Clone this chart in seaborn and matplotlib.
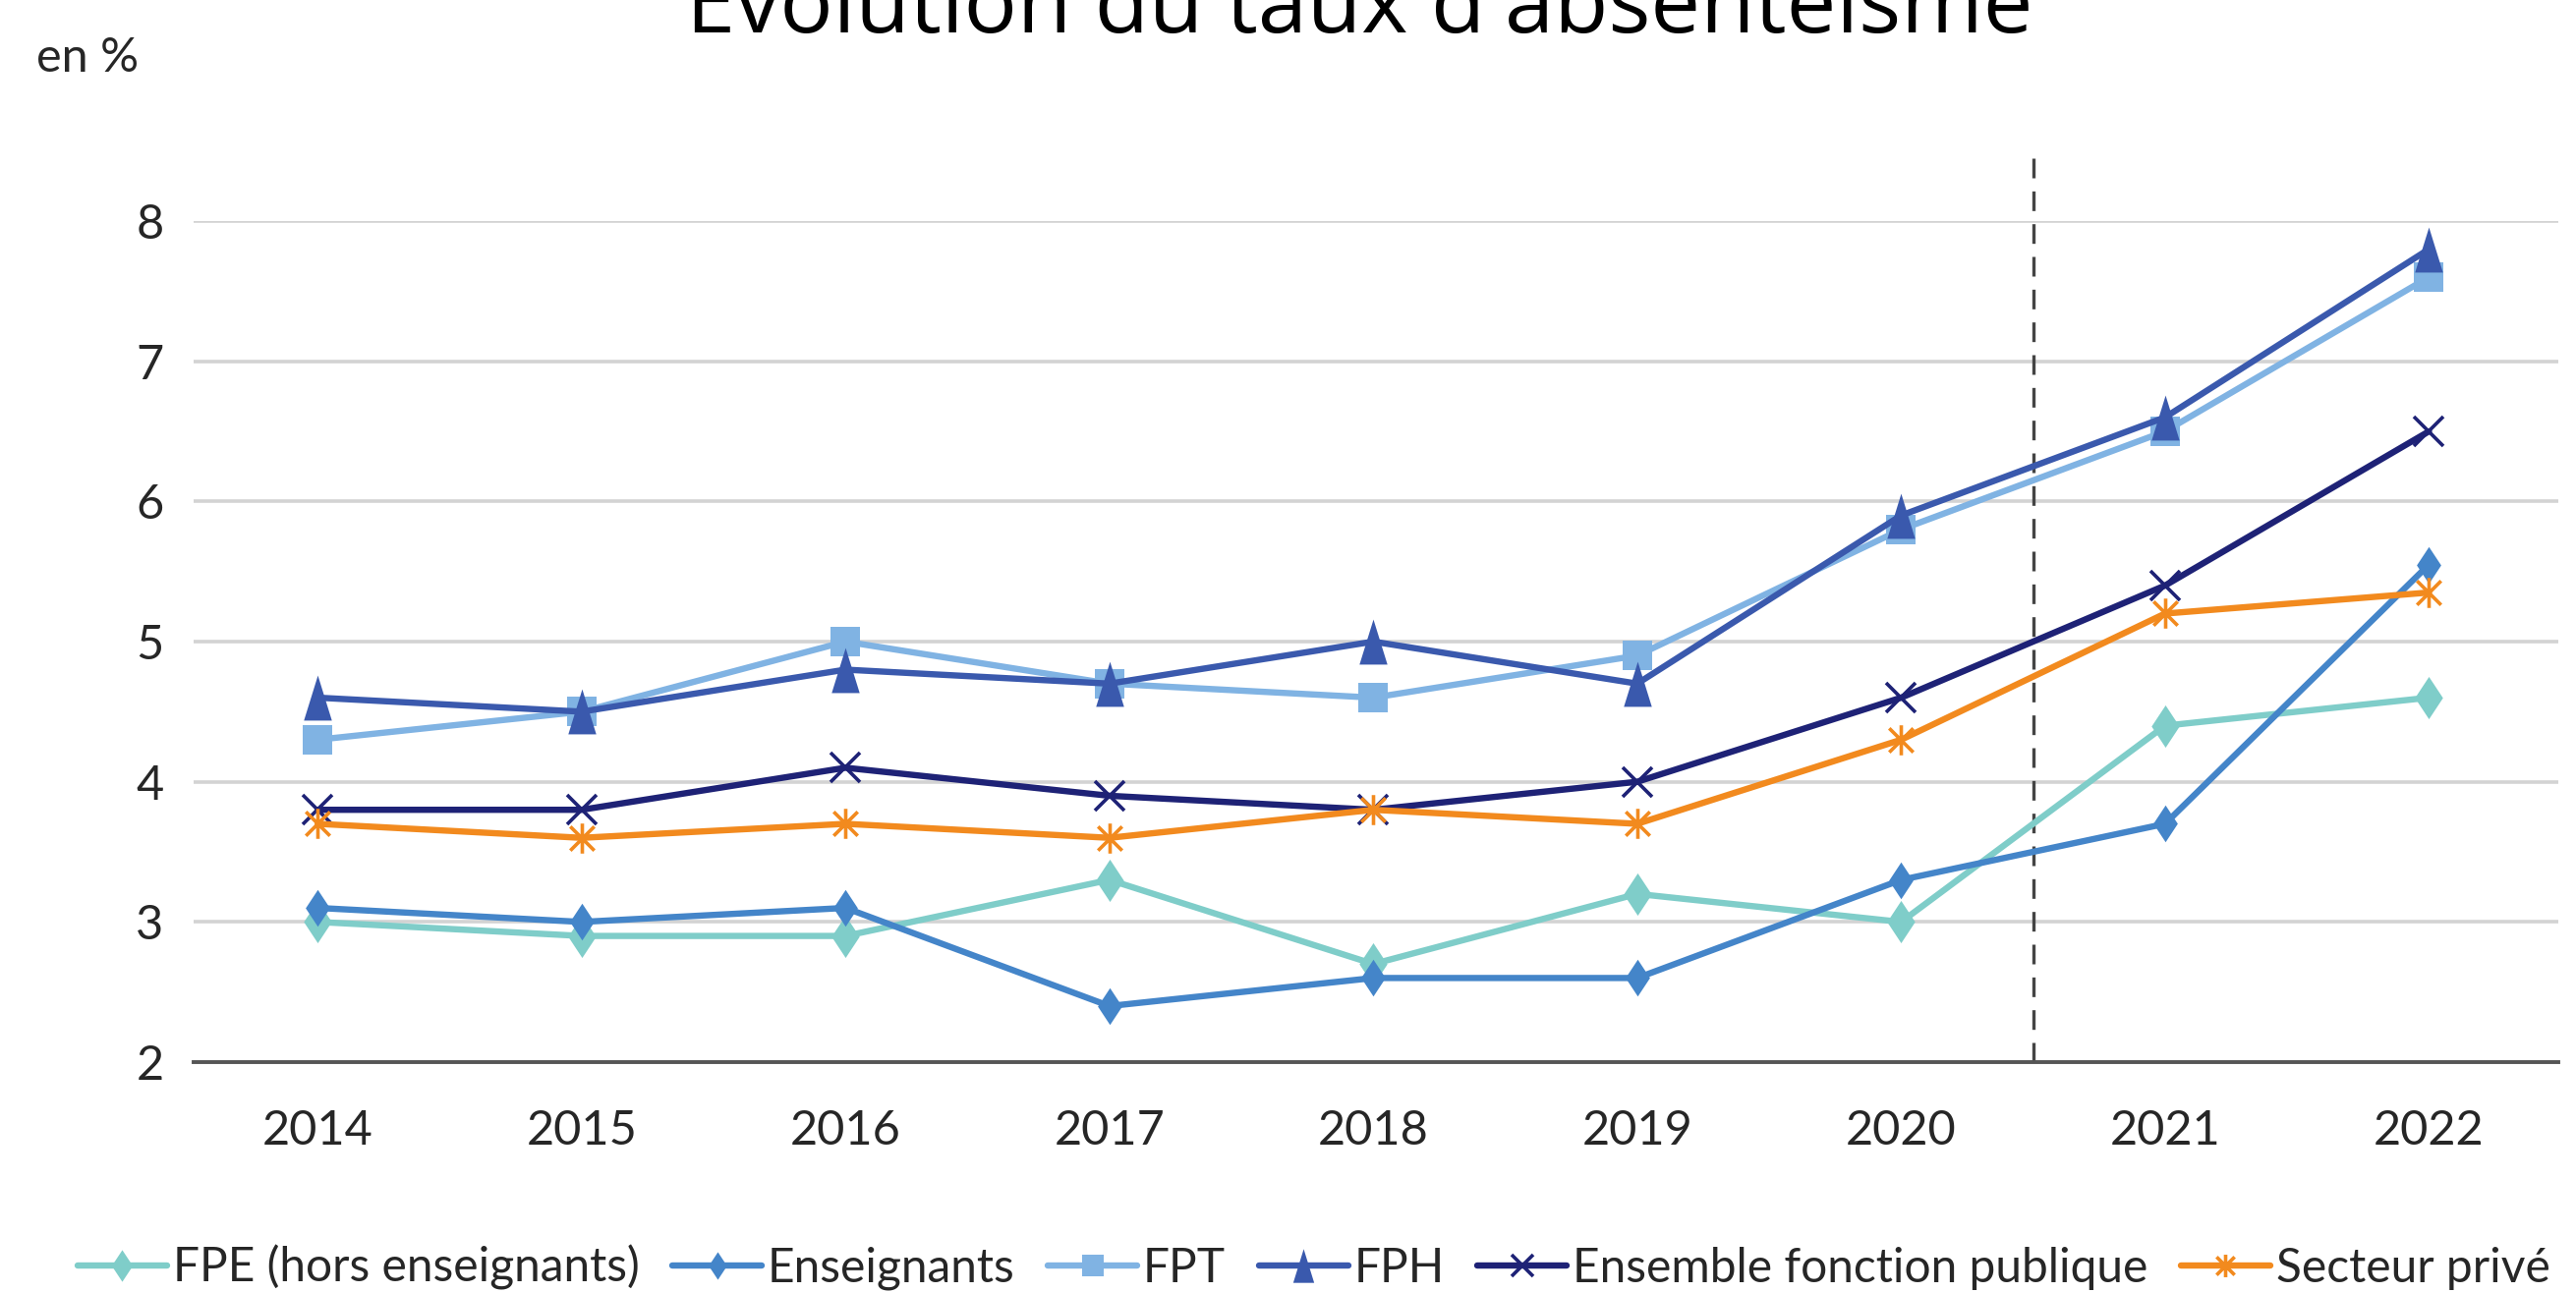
"""Évolution du taux d'absentéisme, 2014-2022."""
import matplotlib
matplotlib.use("Agg")
import matplotlib.pyplot as plt
from matplotlib.path import Path
import seaborn as sns

YEARS = [2014, 2015, 2016, 2017, 2018, 2019, 2020, 2021, 2022]

FPE = [3.0, 2.9, 2.9, 3.3, 2.7, 3.2, 3.0, 4.4, 4.6]
ENSEIGNANTS = [3.1, 3.0, 3.1, 2.4, 2.6, 2.6, 3.3, 3.7, 5.55]
FPT = [4.3, 4.5, 5.0, 4.7, 4.6, 4.9, 5.8, 6.5, 7.6]
FPH = [4.6, 4.5, 4.8, 4.7, 5.0, 4.7, 5.9, 6.6, 7.8]
ENSEMBLE = [3.8, 3.8, 4.1, 3.9, 3.8, 4.0, 4.6, 5.4, 6.5]
PRIVE = [3.7, 3.6, 3.7, 3.6, 3.8, 3.7, 4.3, 5.2, 5.35]

LABELS = ["FPE (hors enseignants)", "Enseignants", "FPT", "FPH",
          "Ensemble fonction publique", "Secteur privé"]
Y_TICKS = [2, 3, 4, 5, 6, 7, 8]

COLORS = ["#7FCDC9", "#4485C9", "#80B3E3", "#3A59AD", "#1E2276", "#F28A1E"]

# tall diamond / triangle like the Excel markers
DIAMOND = [(0, 1), (0.66, 0), (0, -1), (-0.66, 0), (0, 1)]
TRIANGLE = [(0, 1), (0.62, -1), (-0.62, -1), (0, 1)]
STAR = Path([(-1, -1), (1, 1), (-1, 1), (1, -1), (0, -1.25), (0, 1.25)],
            [Path.MOVETO, Path.LINETO, Path.MOVETO, Path.LINETO, Path.MOVETO, Path.LINETO])

STYLES = [
    dict(marker=DIAMOND, ms=31, mew=0),
    dict(marker=DIAMOND, ms=27, mew=0),
    dict(marker="s", ms=21, mew=0),
    dict(marker=TRIANGLE, ms=33, mew=0),
    dict(marker="x", ms=21, mew=2.6),
    dict(marker=STAR, ms=22, mew=2.6),
]

W, H = 2621, 1316


def main():
    sns.set_theme(style="white")
    plt.rcParams["font.family"] = ["Lato", "DejaVu Sans"]

    fig = plt.figure(figsize=(W / 100, H / 100), dpi=100)
    ax = fig.add_axes([197 / W, 1 - 1081 / H, (2603 - 197) / W, (1081 - 225) / H])

    series = [FPE, ENSEIGNANTS, FPT, FPH, ENSEMBLE, PRIVE]
    for vals, label, color, st in zip(series, LABELS, COLORS, STYLES):
        sns.lineplot(x=YEARS, y=vals, ax=ax, color=color, label=label, linewidth=4.6,
                     marker=st["marker"], markersize=st["ms"],
                     markeredgecolor=color, markerfacecolor=color,
                     markeredgewidth=st["mew"], clip_on=False, zorder=3)

    ax.set_xlim(2013.53, 2022.49)
    ax.set_ylim(2, 8)
    ax.set_xticks(YEARS)
    ax.set_yticks(Y_TICKS)
    ax.set_xlabel("")
    ax.set_ylabel("")
    ax.yaxis.grid(True, color="#d3d3d3", lw=2.6)
    ax.xaxis.grid(False)
    for side in ("left", "right", "top"):
        ax.spines[side].set_visible(False)
    ax.spines["bottom"].set_color("#555555")
    ax.spines["bottom"].set_linewidth(2.8)
    ax.tick_params(axis="x", direction="inout", length=25, width=2,
                   color="#555555", pad=22, labelsize=35, labelcolor="#262626")
    ax.tick_params(axis="y", length=0, pad=22, labelsize=35, labelcolor="#262626")

    # separation 2020 / 2021
    ax.axvline(2020.5, ymin=0, ymax=1.075, color="#444444", lw=2.4,
               ls=(0, (6, 4)), clip_on=False, zorder=2)

    ax.get_legend().remove()
    handles, labels = ax.get_legend_handles_labels()
    fig.legend(handles, labels, loc="center", bbox_to_anchor=(0.510, 1 - 1290 / H),
               ncol=6, frameon=False, fontsize=34.5, handlelength=1.9,
               handletextpad=0.12, columnspacing=0.7, borderpad=0, markerscale=0.75)

    fig.text(1383 / W, 1 - 33 / H, "Évolution du taux d'absentéisme", ha="center",
             va="baseline", fontsize=65, family=["Open Sans", "DejaVu Sans"], color="black")
    fig.text(37 / W, 1 - 73 / H, "en %", ha="left", va="baseline", fontsize=35,
             color="#262626")

    fig.savefig("out.png", dpi=100, facecolor="white")
    plt.close(fig)


if __name__ == "__main__":
    main()
